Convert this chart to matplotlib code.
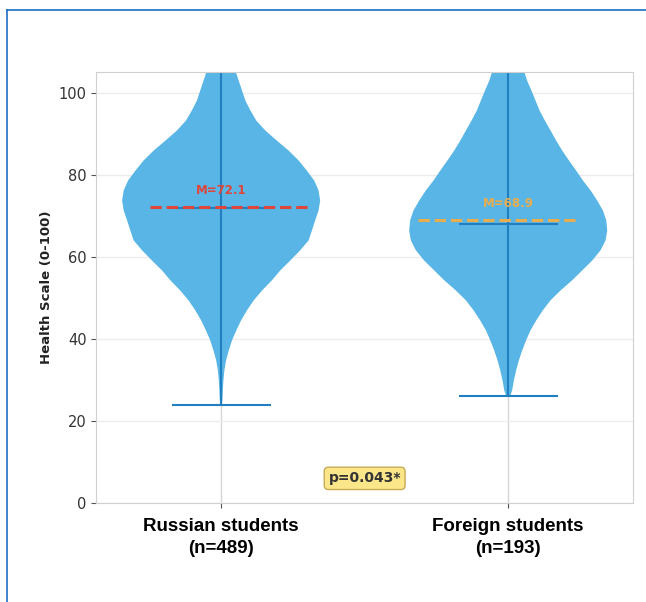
import matplotlib
matplotlib.use("Agg")
import matplotlib.pyplot as plt
from matplotlib.lines import Line2D
import numpy as np

# groups
groups = ["Russian students\n(n=489)", "Foreign students\n(n=193)"]
means = [72.1, 68.9]
medians = [72.0, 68.0]
mins = [24.0, 26.0]
maxs = [112.0, 112.0]

# violin outline: level -> half width (px)
rus_y = [24.0, 25.1, 27.5, 29.9, 32.4, 34.8, 37.2, 39.7, 42.1, 44.5, 47.0, 49.4,
         51.8, 54.3, 56.7, 59.1, 61.6, 64.0, 66.4, 68.9, 71.3, 73.7, 76.2, 78.6,
         81.0, 83.5, 85.9, 88.3, 90.8, 93.2, 95.7, 98.1, 100.5, 102.9, 105.4, 112.0]
rus_w = [0.8, 1.3, 1.7, 2.3, 3.3, 5.0, 7.7, 11.0, 15.3, 20.0, 26.0, 32.7,
         41.0, 51.0, 59.3, 69.3, 79.3, 87.7, 91.0, 94.3, 97.7, 99.3, 97.7, 93.3,
         86.0, 77.7, 67.7, 56.0, 44.3, 35.3, 29.3, 24.3, 21.0, 17.7, 14.3, 8.0]
for_y = [26.0, 27.5, 29.9, 32.4, 34.8, 37.2, 39.7, 42.1, 44.5, 47.0, 49.4,
         51.8, 54.3, 56.7, 59.1, 61.6, 64.0, 66.4, 68.9, 71.3, 73.7, 76.2, 78.6,
         81.0, 83.5, 85.9, 88.3, 90.8, 93.2, 95.7, 98.1, 100.5, 102.9, 105.4, 112.0]
for_w = [2.0, 4.0, 5.7, 8.0, 10.7, 14.0, 18.0, 22.3, 28.0, 34.7, 42.3,
         52.3, 64.0, 74.0, 84.0, 92.3, 97.3, 99.0, 98.0, 94.7, 89.0, 82.3, 74.7,
         68.0, 60.7, 54.0, 48.0, 42.3, 36.7, 31.3, 27.3, 23.3, 19.0, 15.7, 9.0]
profiles_y = [rus_y, for_y]
profiles_w = [rus_w, for_w]

mean_colors = ["#e0453a", "#e9ad4e"]
mean_spans = [(0.1, 0.4), (0.6, 0.9)]
p_text = "p=0.043*"

fig = plt.figure(figsize=(6.46, 6.02), dpi=100)
ax = fig.add_axes([0.149, 0.1645, 0.831, 0.7155])

stats = []
for i in range(2):
    stats.append(dict(coords=np.array(profiles_y[i]), vals=np.array(profiles_w[i]),
                      mean=means[i], median=medians[i], min=mins[i], max=maxs[i]))

positions = [0, 1]
parts = ax.violin(stats, positions=positions, widths=0.69, showmeans=False,
                  showextrema=True, showmedians=True)
for b in parts["bodies"]:
    b.set_facecolor("#58b5e5")
    b.set_edgecolor("none")
    b.set_alpha(1)
for k in ["cbars", "cmins", "cmaxes", "cmedians"]:
    parts[k].set_color("#1f7fc0")
    parts[k].set_linewidth(1.5)

for i in range(2):
    ax.axhline(means[i], xmin=mean_spans[i][0], xmax=mean_spans[i][1],
               color=mean_colors[i], linestyle="--", linewidth=2.2, zorder=3)
    ax.text(positions[i], means[i] + 4, f"M={means[i]:.1f}", color=mean_colors[i],
            fontsize=8.5, fontweight="bold", ha="center", va="center", zorder=4)

ax.text(0.5, 6, p_text, fontsize=10, fontweight="bold", color="#333333",
        ha="center", va="center",
        bbox=dict(boxstyle="round,pad=0.3", facecolor="#fbe68a", edgecolor="#c9ab55"))

ax.set_xlim(-0.435, 1.435)
ax.set_ylim(0, 105)
ax.set_xticks(positions)
ax.set_xticklabels(groups, fontsize=13.5, fontweight="bold", family="Liberation Sans",
                   color="black", linespacing=1.4)
ax.set_yticks([0, 20, 40, 60, 80, 100])
ax.tick_params(axis="y", labelsize=10.5, labelcolor="#333333", color="#555555")
ax.tick_params(axis="x", color="#555555", pad=7)
ax.set_ylabel("Health Scale (0-100)", fontsize=9.5, fontweight="bold", color="#222222")
ax.yaxis.set_label_coords(-0.08, 0.5)

ax.set_axisbelow(True)
ax.grid(axis="y", color="#ececec", linewidth=1)
ax.grid(axis="x", color="#d6d6d6", linewidth=1)
for s in ax.spines.values():
    s.set_color("#d0d0d0")

# frame round the picture (top and left only)
fig.add_artist(Line2D([7 / 646, 1], [1 - 10 / 602, 1 - 10 / 602], color="#1c6fc2",
                      linewidth=1.2, transform=fig.transFigure))
fig.add_artist(Line2D([7 / 646, 7 / 646], [0, 1 - 10 / 602], color="#1c6fc2",
                      linewidth=1.2, transform=fig.transFigure))

plt.savefig("out.png", dpi=100)
